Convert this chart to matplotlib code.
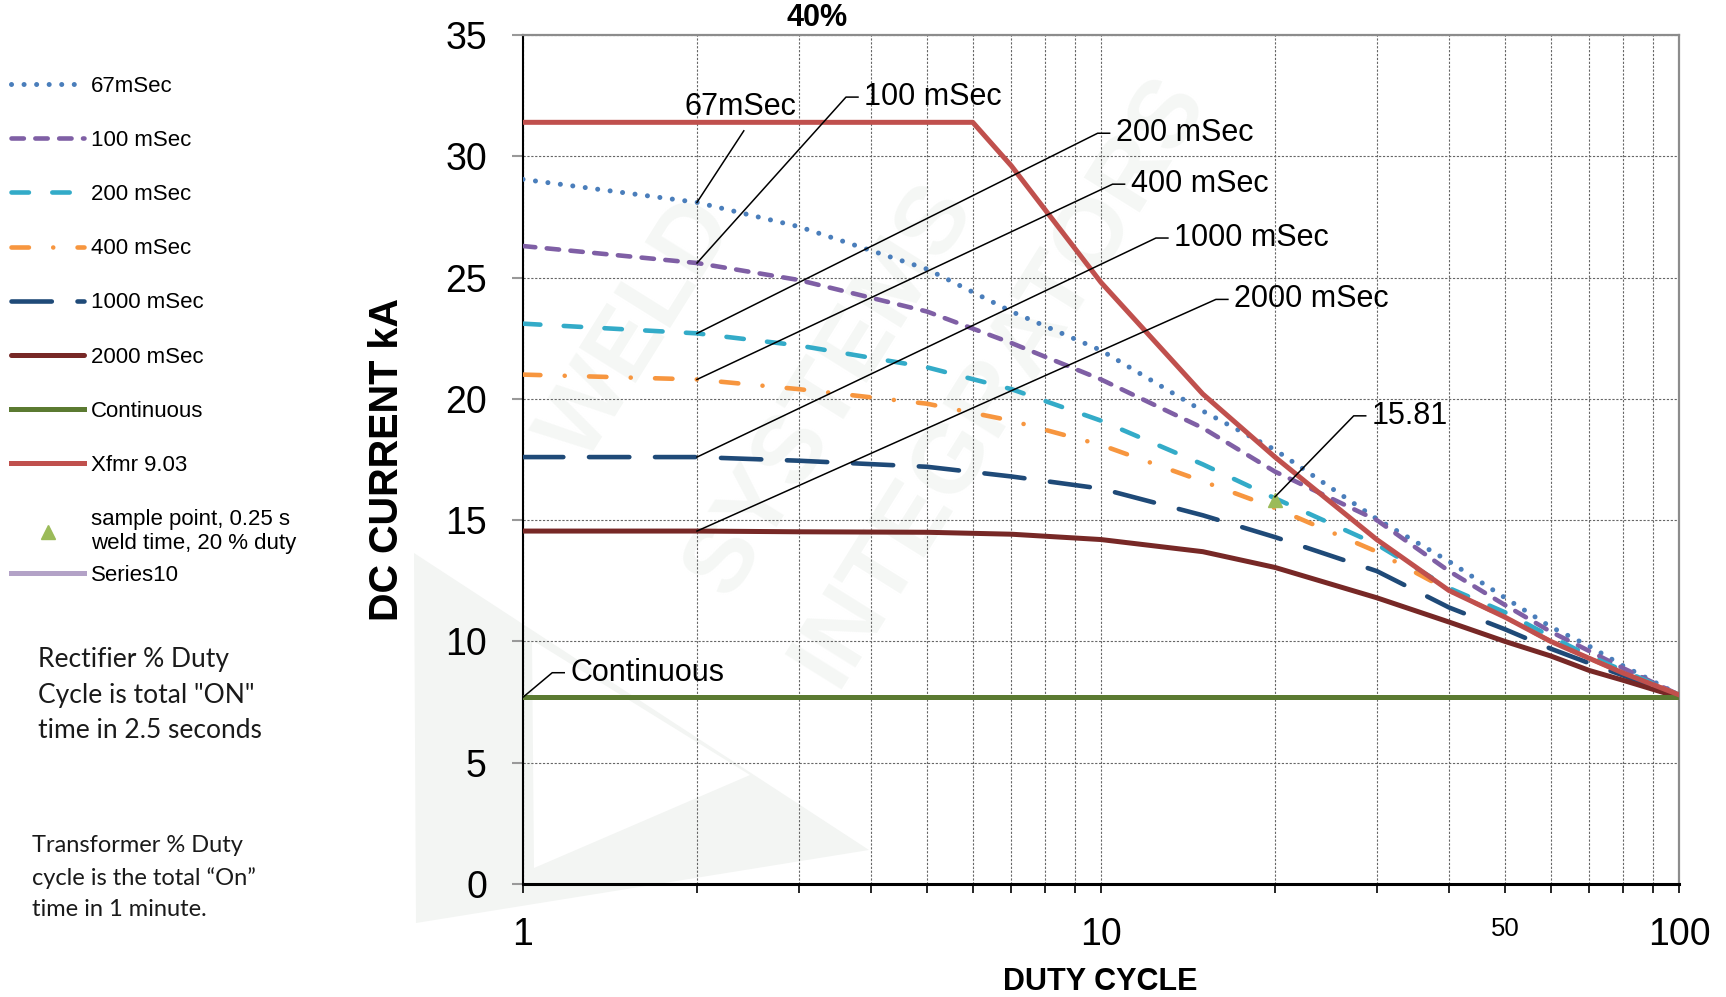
import matplotlib
matplotlib.use('Agg')
import matplotlib.pyplot as plt
from matplotlib.patches import Polygon
from matplotlib.ticker import FixedLocator, FixedFormatter, NullFormatter

# ---------------- data ----------------
duty = [1, 2, 3, 5, 7, 10, 15, 20, 30, 40, 50, 60, 70, 80, 100]
ms67 = [29.05, 28.1, 27.1, 25.35, 23.6, 22.0, 19.5, 17.9, 15.05, 13.3, 11.8, 10.6, 9.8, 9.0, 7.8]
ms100 = [26.3, 25.6, 24.9, 23.6, 22.3, 20.8, 18.8, 17.0, 15.0, 12.9, 11.5, 10.4, 9.6, 8.9, 7.8]
ms200 = [23.1, 22.7, 22.2, 21.3, 20.4, 19.1, 17.3, 15.9, 14.0, 12.2, 11.2, 10.2, 9.4, 8.8, 7.8]
ms400 = [21.0, 20.8, 20.4, 19.8, 19.1, 18.1, 16.6, 15.5, 13.7, 12.1, 11.0, 10.0, 9.3, 8.7, 7.8]
ms1000 = [17.6, 17.6, 17.45, 17.2, 16.8, 16.3, 15.2, 14.3, 12.9, 11.4, 10.5, 9.7, 9.1, 8.6, 7.7]
ms2000 = [14.55, 14.55, 14.52, 14.5, 14.42, 14.2, 13.7, 13.05, 11.8, 10.8, 10.0, 9.4, 8.8, 8.4, 7.7]
continuous_duty = [1, 100]
continuous = [7.7, 7.7]
xfmr_duty = [1, 6, 7, 10, 15, 20, 30, 40, 50, 60, 70, 80, 100]
xfmr = [31.4, 31.4, 29.6, 24.8, 20.2, 17.6, 14.2, 12.1, 11.0, 10.0, 9.3, 8.7, 7.8]
sample_duty = [20]
sample_current = [15.81]
series10_duty = []
series10 = []

x_major = [1, 10, 50, 100]
x_major_labels = ['1', '10', '50', '100']
x_minor = [2, 3, 4, 5, 6, 7, 8, 9, 20, 30, 40, 60, 70, 80, 90]
y_ticks = [0, 5, 10, 15, 20, 25, 30, 35]

# ---------------- figure ----------------
plt.rcParams['font.family'] = ['Liberation Sans', 'DejaVu Sans']
W, H = 1726, 997
fig = plt.figure(figsize=(W / 100, H / 100), dpi=100)
ax = fig.add_axes([523 / W, 1 - 884 / H, 1156 / W, 849 / H])
ax.patch.set_alpha(0)


def fpts(pts):
    return [(x / W, 1 - y / H) for x, y in pts]


# faint watermark shapes
fig.patches.append(Polygon(fpts([(414, 553), (869, 850), (416, 923)]), closed=True,
                           transform=fig.transFigure, facecolor='#f3f5f3', edgecolor='none', zorder=-2))
fig.patches.append(Polygon(fpts([(532, 640), (534, 868), (750, 775)]), closed=True,
                           transform=fig.transFigure, facecolor='white', edgecolor='none', zorder=-1))
for txt, (cx, cy) in [('WELD', (640, 330)), ('SYSTEMS', (830, 390)), ('INTEGRATORS', (1000, 380))]:
    fig.text(cx / W, 1 - cy / H, txt, rotation=58, fontsize=70, color='#f5f7f5',
             ha='center', va='center', zorder=-1, fontweight='bold')

ax.set_xscale('log')
ax.set_xlim(1, 100)
ax.set_ylim(0, 35)

lw_d = 3.3
ax.plot(duty, ms67, color='#4A7EBB', lw=3.6, ls=(0, (0.01, 2.5)), dash_capstyle='round',
        label='67mSec', zorder=3)
ax.plot(duty, ms100, color='#7F5FA5', lw=lw_d, ls=(0, (2.7, 2.5)), dash_capstyle='round',
        label='100 mSec', zorder=3)
ax.plot(duty, ms200, color='#33ABC8', lw=lw_d, ls=(0, (3.8, 5.1)), dash_capstyle='round',
        label='200 mSec', zorder=3)
ax.plot(duty, ms400, color='#F7963F', lw=lw_d, ls=(0, (3.8, 5.3, 0.01, 5.3)), dash_capstyle='round',
        label='400 mSec', zorder=3)
ax.plot(duty, ms1000, color='#1F4A78', lw=lw_d, ls=(0, (8.8, 5.6)), dash_capstyle='round',
        label='1000 mSec', zorder=3)
ax.plot(duty, ms2000, color='#772826', lw=3.6, solid_capstyle='round', label='2000 mSec', zorder=3)
ax.plot(continuous_duty, continuous, color='#5B7A31', lw=3.6, label='Continuous', zorder=3)
ax.plot(xfmr_duty, xfmr, color='#C0504D', lw=3.6, label='Xfmr 9.03', zorder=4)
ax.plot(sample_duty, sample_current, ls='none', marker='^', ms=10, color='#9BBB59',
        mec='#9BBB59', label='sample point, 0.25 s\nweld time, 20 % duty', zorder=5)
ax.plot(series10_duty, series10, color='#B3A2C7', lw=3.6, label='Series10')

# ticks & grid
ax.xaxis.set_major_locator(FixedLocator(x_major))
ax.xaxis.set_major_formatter(FixedFormatter(x_major_labels))
ax.xaxis.set_minor_locator(FixedLocator(x_minor))
ax.xaxis.set_minor_formatter(NullFormatter())
ax.set_yticks(y_ticks)
ax.tick_params(axis='x', which='both', direction='out', length=6.5, width=1.2, color='black',
               labelsize=27, pad=17)
ax.tick_params(axis='y', which='both', direction='out', length=8, width=1.5, color='#999999',
               labelsize=27, pad=18)
for lab in ax.get_xticklabels():
    if lab.get_text() == '50':
        lab.set_fontsize(18.5)

grid_kw = dict(color='#666666', lw=0.8, ls=(0, (2, 1.5)), zorder=1)
ax.grid(True, which='both', axis='x', **grid_kw)
ax.grid(True, which='major', axis='y', **grid_kw)
ax.set_axisbelow(True)

ax.spines['left'].set_color('black')
ax.spines['left'].set_linewidth(1.5)
ax.spines['bottom'].set_color('black')
ax.spines['bottom'].set_linewidth(2.2)
for s in ('top', 'right'):
    ax.spines[s].set_color('#8c8c8c')
    ax.spines[s].set_linewidth(1.6)

# axis titles
fig.text(387 / W, 1 - 459 / H, 'DC CURRENT kA', rotation=90, ha='center', va='center',
         fontsize=28.5, fontweight='bold',
         family=['Liberation Sans Narrow', 'Liberation Sans', 'DejaVu Sans'])
fig.text(1100 / W, 1 - 982 / H, 'DUTY CYCLE', ha='center', va='center',
         fontsize=22, fontweight='bold')
fig.text(817 / W, 1 - 18 / H, '40%', ha='center', va='center', fontsize=22, fontweight='bold')

# callouts with leader lines
PPD = 1156 / 2.0  # pixels per decade


def callout(label, tx, ty, px, py):
    ax.text(tx, ty, label, ha='left', va='center', fontsize=22, zorder=6)
    x_end = tx * 10 ** (-6 / PPD)
    x_corner = tx * 10 ** (-18 / PPD)
    ax.plot([px, x_corner, x_end], [py, ty, ty], color='black', lw=1.1, zorder=6)


i2 = duty.index(2)
ax.text(2.38, 32.05, '67mSec', ha='center', va='center', fontsize=22, zorder=6)
ax.plot([duty[i2], 2.41], [ms67[i2], 31.05], color='black', lw=1.1, zorder=6)
callout('100 mSec', 3.89, 32.44, duty[i2], ms100[i2])
callout('200 mSec', 10.6, 30.95, duty[i2], ms200[i2])
callout('400 mSec', 11.25, 28.85, duty[i2], ms400[i2])
callout('1000 mSec', 13.37, 26.63, duty[i2], ms1000[i2])
callout('2000 mSec', 16.98, 24.1, duty[i2], ms2000[i2])
callout('15.81', 29.4, 19.3, sample_duty[0], sample_current[0] + 0.15)
callout('Continuous', 1.207, 8.71, continuous_duty[0], continuous[0])

# legend (Series10 entry placed separately to match the reference's tighter spacing)
handles, labels = ax.get_legend_handles_labels()
leg_kw = dict(loc='upper left', frameon=False, fontsize=16, handlelength=3.3, handletextpad=0.28,
              labelspacing=1.49, borderpad=0, borderaxespad=0, numpoints=1)
fig.legend(handles[:9], labels[:9], bbox_to_anchor=(11 / W, 1 - 76 / H), **leg_kw)
fig.legend(handles[9:], labels[9:], bbox_to_anchor=(11 / W, 1 - 565 / H), **leg_kw)

# notes
fig.text(38 / W, 1 - 647 / H, 'Rectifier % Duty\nCycle is total "ON"\ntime in 2.5 seconds',
         ha='left', va='top', fontsize=19, family=['Lato', 'DejaVu Sans'], linespacing=1.53,
         color='#1a1a1a')
fig.text(32 / W, 1 - 835 / H, 'Transformer % Duty\ncycle is the total \u201cOn\u201d\ntime in 1 minute.',
         ha='left', va='top', fontsize=17, family=['Lato', 'DejaVu Sans'], linespacing=1.6,
         color='#1a1a1a')

fig.savefig('out.png', dpi=100)
